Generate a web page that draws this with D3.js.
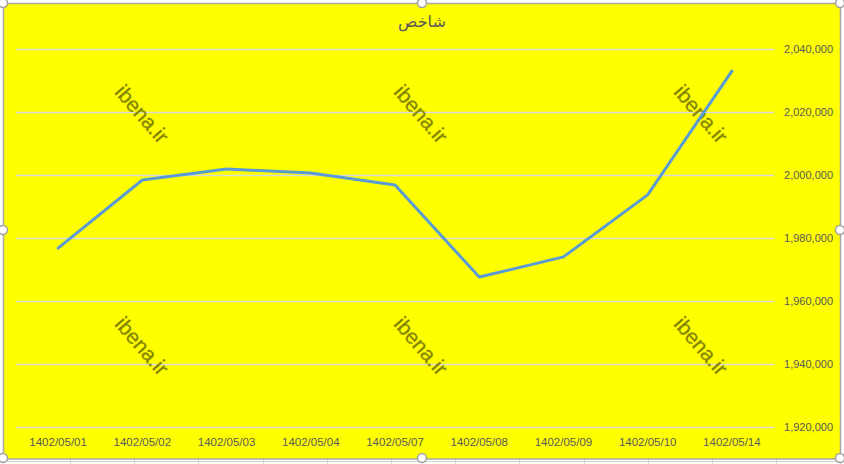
<!DOCTYPE html>
<html>
<head>
<meta charset="utf-8">
<script src="https://cdn.jsdelivr.net/npm/d3@7"></script>
<style>
  body { margin: 0; background: #fff; }
  svg { display: block; }
  .tick text { font-family: "Liberation Sans", Arial, sans-serif; font-size: 11px; fill: #595959; }
  .x-axis .tick text { font-size: 11.5px; }
</style>
</head>
<body>
<div id="chart"></div>
<script>
// chart values
var dates = ["1402/05/01", "1402/05/02", "1402/05/03", "1402/05/04", "1402/05/07",
  "1402/05/08", "1402/05/09", "1402/05/10", "1402/05/14"];
var values = [1976800, 1998400, 2001900, 2000600, 1996800, 1967600, 1974000, 1993700, 2033000];
var yTicks = [1920000, 1940000, 1960000, 1980000, 2000000, 2020000, 2040000];
var titleText = "شاخص";
var watermark = "ibena.ir";

var svgWidth = 844;
var svgHeight = 464;

var svg = d3.select("#chart")
  .append("svg")
  .attr("width", svgWidth)
  .attr("height", svgHeight);

// spreadsheet cell lines behind the chart
var cells = svg.append("g").attr("stroke", "#d4d4d4").attr("stroke-width", 1);
cells.append("line").attr("x1", 0).attr("x2", svgWidth).attr("y1", 461.5).attr("y2", 461.5);
d3.range(0, 13).forEach(function(k) {
  var x = Math.round(70 + k * 64.2) + 0.5;
  cells.append("line").attr("x1", x).attr("x2", x).attr("y1", 459).attr("y2", svgHeight);
});

// chart area
svg.append("rect")
  .attr("x", 3.5).attr("y", 3.5)
  .attr("width", 837).attr("height", 455.5)
  .attr("fill", "#ffff00")
  .attr("stroke", "#a6a6a6")
  .attr("stroke-width", 1.5);

// scales
var x = d3.scaleBand()
  .domain(dates)
  .range([16, 774]);

var y = d3.scaleLinear()
  .domain([1920000, 2040000])
  .range([427, 49]);

// gridlines
svg.append("g")
  .selectAll("line")
  .data(yTicks)
  .enter()
  .append("line")
  .attr("x1", 16)
  .attr("x2", 774)
  .attr("y1", d => y(d) + 0.5)
  .attr("y2", d => y(d) + 0.5)
  .attr("stroke", "#d9d9d9")
  .attr("stroke-width", 1.3);

// y axis on the right
var rightAxis = d3.axisRight(y)
  .tickValues(yTicks)
  .tickFormat(d3.format(","))
  .tickSize(0)
  .tickPadding(0);

var yAxis = svg.append("g")
  .attr("transform", "translate(833, 0)")
  .call(rightAxis);
yAxis.select(".domain").remove();
yAxis.selectAll("text").attr("text-anchor", "end").attr("dy", "0.35em");

// x axis
var bottomAxis = d3.axisBottom(x).tickSize(0).tickPadding(0);
var xAxis = svg.append("g")
  .classed("x-axis", true)
  .attr("transform", "translate(0, 446)")
  .call(bottomAxis);
xAxis.select(".domain").remove();
xAxis.selectAll("text").attr("dy", "0");

// watermarks
var marks = [[142, 114], [421, 114], [701, 114], [142, 346], [421, 346], [701, 346]];
svg.append("g")
  .selectAll("text")
  .data(marks)
  .enter()
  .append("text")
  .attr("transform", d => `translate(${d[0]}, ${d[1]}) rotate(49)`)
  .attr("text-anchor", "middle")
  .attr("dy", "0.35em")
  .attr("font-family", "Liberation Sans, Arial, sans-serif")
  .attr("font-size", "21px")
  .attr("fill", "#858500")
  .attr("stroke", "#858500")
  .attr("stroke-width", 0.3)
  .text(watermark);

// line
var line = d3.line()
  .x((d, i) => x(dates[i]) + x.bandwidth() / 2)
  .y(d => y(d));

svg.append("path")
  .datum(values)
  .attr("d", line)
  .attr("fill", "none")
  .attr("stroke", "#5b9bd5")
  .attr("stroke-width", 3)
  .attr("stroke-linecap", "round")
  .attr("stroke-linejoin", "round");

// title
svg.append("text")
  .attr("x", 422)
  .attr("y", 27)
  .attr("text-anchor", "middle")
  .attr("font-family", "Noto Sans, DejaVu Sans, sans-serif")
  .attr("font-size", "16px")
  .attr("fill", "#595959")
  .text(titleText);

// selection handles
var handles = [[3, 3], [422, 3], [840, 3], [3, 230], [840, 230], [3, 458], [422, 458], [840, 458]];
svg.append("g")
  .selectAll("circle")
  .data(handles)
  .enter()
  .append("circle")
  .attr("cx", d => d[0])
  .attr("cy", d => d[1])
  .attr("r", 4.5)
  .attr("fill", "#fff")
  .attr("stroke", "#a0a0a0")
  .attr("stroke-width", 1.5);
</script>
</body>
</html>
